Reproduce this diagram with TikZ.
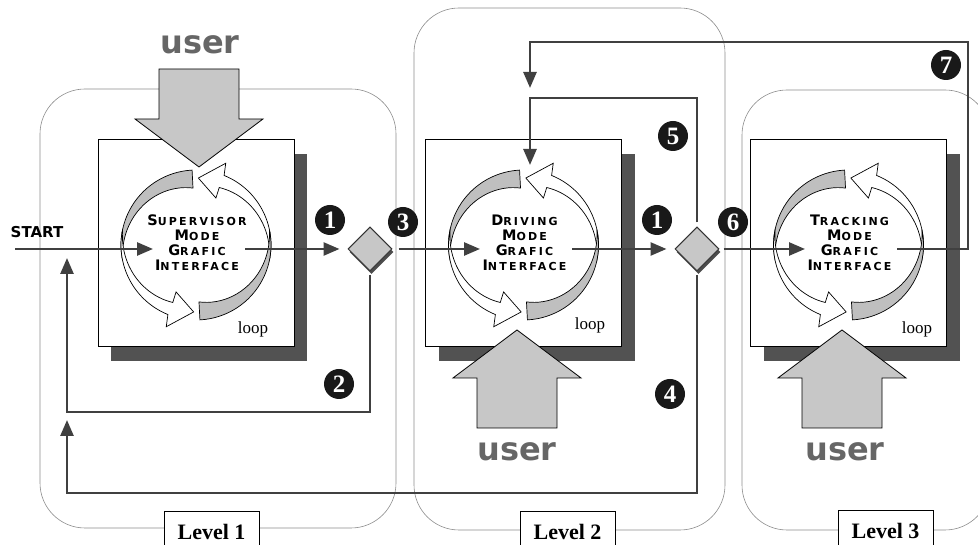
\documentclass[tikz,border=0pt]{standalone}
\usepackage{fontspec}
\setmainfont{Liberation Serif}
\setsansfont{DejaVu Sans}
\newfontfamily\modefont[LetterSpace=20]{DejaVu Sans}
\newfontfamily\userfont{DejaVu Sans}
\usetikzlibrary{arrows.meta,shapes.geometric,shadows}
\newcommand\modecap[2]{{\fontsize{14.5}{15}\selectfont #1}#2}

\begin{document}
\begin{tikzpicture}[x=1pt,y=1pt]
\tikzset{
  levelbox/.style={draw=black!45,line width=0.6pt,rounded corners=45pt},
  levellabel/.style={draw=black,fill=white,line width=0.8pt,minimum width=95pt,minimum height=42pt,inner sep=0pt,font=\fontsize{22}{22}\selectfont\bfseries},
  modebox/.style={draw=black,fill=white,line width=1pt,minimum width=196pt,minimum height=207pt,inner sep=0pt,
    drop shadow={shadow xshift=13pt,shadow yshift=-14pt,fill=black!68,opacity=1}},
  modetext/.style={align=center,font=\modefont\bfseries\fontsize{11}{15}\selectfont,inner sep=0pt},
  looplabel/.style={font=\fontsize{17}{17}\selectfont,inner sep=0pt},
  marker/.style={circle,fill=black!90,minimum size=30pt,inner sep=0pt,text=white,font=\fontsize{25}{25}\selectfont\bfseries},
  switch/.style={diamond,draw=black!80,fill=black!22,line width=1pt,minimum size=44pt,inner sep=0pt,aspect=1,
    drop shadow={shadow xshift=1.5pt,shadow yshift=-3pt,fill=black!70,opacity=1}},
  flow/.style={draw=black!75,line width=2.6pt},
  directed/.style={flow,-{Triangle[length=16pt,width=13pt]}},
  userarrowfill/.style={draw=black,fill=black!22,line width=0.8pt,line join=miter},
  usertext/.style={text=black!60,font=\userfont\bfseries\fontsize{32}{32}\selectfont,inner sep=0pt},
  graypart/.style={draw=black,fill=black!25,line width=0.7pt},
  whitepart/.style={draw=black,fill=white,line width=0.7pt},
  loopsym/.pic={
    \foreach \r in {0,180}{
      \begin{scope}[rotate=\r]
      \path[graypart] (93:75) arc[start angle=93,end angle=192,radius=75]
        -- plot[domain=192:93,samples=25] ({\x}:{75-18*(192-\x)/99}) -- cycle;
      \path[whitepart] (-12:75) arc[start angle=-12,end angle=68,radius=75]
        -- (70:87) -- (88:67) -- (67:51) -- (68:62)
        -- plot[domain=68:-12,samples=25] ({\x}:{75-13*(\x+12)/80}) -- cycle;
      \end{scope}}
  },
  userarrow/.pic={
    \path[userarrowfill] (0,0) -- (64,-48) -- (40,-48) -- (40,-98) -- (-40,-98) -- (-40,-48) -- (-64,-48) -- cycle;
  }
}
\useasboundingbox (0,0) rectangle (978,545);
\clip (0,0) rectangle (978,545);
% levels
\draw[levelbox] (40,17) rectangle (396,456);
\draw[levelbox] (414,15) rectangle (725,537);
\draw[levelbox] (742,15) rectangle (990,455);
\node[levellabel] (n_level_1) at (211.5,13) {Level 1};
\node[levellabel] (n_level_2) at (567.5,13) {Level 2};
\node[levellabel] (n_level_3) at (885.5,14) {Level 3};
% mode boxes
\node[modebox] (n_box_1) at (196,301.5) {};
\node[modebox] (n_box_2) at (523.5,301.5) {};
\node[modebox] (n_box_3) at (848.5,301.5) {};
\pic at (196,300) {loopsym};
\pic at (523.5,300) {loopsym};
\pic at (848.5,300) {loopsym};
\node[modetext] (n_text_1) at (197,302.5) {\modecap{S}{UPERVISOR}\\\modecap{M}{ODE}\\\modecap{G}{RAFIC}\\\modecap{I}{NTERFACE}};
\node[modetext] (n_text_2) at (524.5,302.5) {\modecap{D}{RIVING}\\\modecap{M}{ODE}\\\modecap{G}{RAFIC}\\\modecap{I}{NTERFACE}};
\node[modetext] (n_text_3) at (849.5,302.5) {\modecap{T}{RACKING}\\\modecap{M}{ODE}\\\modecap{G}{RAFIC}\\\modecap{I}{NTERFACE}};
\node[looplabel] (n_loop_1) at (253,216) {loop};
\node[looplabel] (n_loop_2) at (590,220) {loop};
\node[looplabel] (n_loop_3) at (917,216) {loop};
% switches
\node[switch] (n_switch_1) at (370,296) {};
\node[switch] (n_switch_2) at (697,296) {};
\node[font=\sffamily\bfseries\fontsize{15}{15}\selectfont,inner sep=0pt] (n_start) at (37,313) {START};
\coordinate (c_start) at (15,296);
\coordinate (c_in_1) at (153,296);
\coordinate (c_out_1) at (245,296);
\coordinate (c_in_2) at (480,296);
\coordinate (c_out_2) at (572,296);
\coordinate (c_in_3) at (805,296);
\coordinate (c_out_3) at (897,296);
% flow
\draw[directed] (c_start) -- (c_in_1);
\draw[directed,shorten >=8pt] (c_out_1) -- (n_switch_1.west);
\draw[directed,shorten <=6pt] (n_switch_1.east) -- (c_in_2);
\draw[directed,shorten >=8pt] (c_out_2) -- (n_switch_2.west);
\draw[directed,shorten <=4pt] (n_switch_2.east) -- (c_in_3);
\draw[directed] (c_out_3) -- (968,296) -- (968,503) -- (530,503) -- (530,457);
\draw[directed,shorten <=4pt] (n_switch_2.north) -- (697,447) -- (530,447) -- (530,380);
\draw[directed,shorten <=4pt] (n_switch_1.south) -- (370,133) -- (67,133) -- (67,287);
\draw[directed,shorten <=4pt] (n_switch_2.south) -- (697,52) -- (67,52) -- (67,125);
% markers
\node[marker] (n_mark_1a) at (330,325) {1};
\node[marker] (n_mark_3) at (403,323) {3};
\node[marker] (n_mark_1b) at (657,325) {1};
\node[marker] (n_mark_6) at (733,323) {6};
\node[marker] (n_mark_5) at (673,409) {5};
\node[marker] (n_mark_7) at (946,480) {7};
\node[marker] (n_mark_2) at (339,161) {2};
\node[marker] (n_mark_4) at (670,151) {4};
% user
\pic[rotate=180] at (199,378) {userarrow};
\pic at (517,215) {userarrow};
\pic at (842,215) {userarrow};
\node[usertext] (n_user_1) at (200,500) {user};
\node[usertext] (n_user_2) at (517,93) {user};
\node[usertext] (n_user_3) at (845,93) {user};
\end{tikzpicture}
\end{document}
